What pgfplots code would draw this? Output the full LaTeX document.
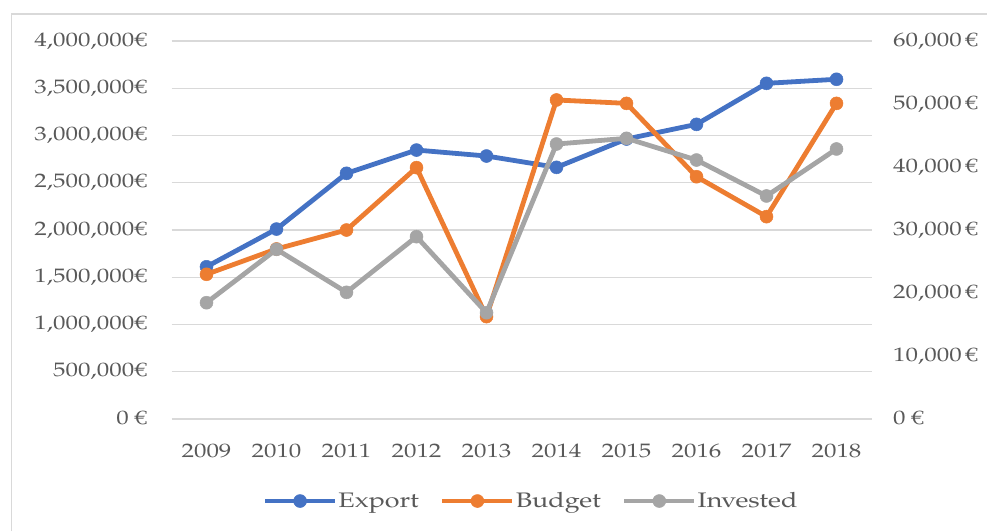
\documentclass[border=0pt]{standalone}
\usepackage{fontspec}
\setmainfont{TeX Gyre Pagella}[FakeStretch=1.28]
\usepackage{pgfplots}
\pgfplotsset{compat=1.18}
\definecolor{cExp}{HTML}{4472C4}
\definecolor{cBud}{HTML}{ED7D31}
\definecolor{cInv}{HTML}{A5A5A5}
\definecolor{cGrid}{HTML}{D9D9D9}
\definecolor{cTxt}{HTML}{595959}
\newcommand\lab{\fontsize{19.5}{23}\selectfont}
\newcommand\leg{\fontsize{21}{25}\selectfont}
\pgfplotsset{
  base/.style={
    at={(171.5pt,112pt)}, anchor=south west, scale only axis,
    width=700pt, height=378pt,
    xmin=-0.5, xmax=9.5, xtick={0,...,9},
    axis line style={draw=none}, major tick length=0pt,
    tick label style={font=\lab, text=cTxt},
    scaled y ticks=false, clip=false,
  },
  ser/.style={#1, line width=4.8pt, mark=*, mark size=6.5pt,
    mark options={solid, fill=#1, draw=#1, line width=0.5pt}},
}
\begin{document}
\begin{tikzpicture}[x=1pt,y=1pt]
\path[use as bounding box] (0,0) rectangle (987,531);
\draw[cGrid, line width=1.2pt] (11.5,0) -- (11.5,517) -- (987,517);
\begin{axis}[base,
  ymin=0, ymax=4000000,
  ytick={0,500000,1000000,1500000,2000000,2500000,3000000,3500000,4000000},
  yticklabels={{0\;€},{500,000€},{1,000,000€},{1,500,000€},{2,000,000€},{2,500,000€},{3,000,000€},{3,500,000€},{4,000,000€}},
  xticklabels={2009,2010,2011,2012,2013,2014,2015,2016,2017,2018},
  xticklabel style={anchor=base, inner sep=0pt, yshift=-38pt},
  yticklabel style={anchor=base east, inner sep=0pt, xshift=-24.5pt, yshift=-5pt},
  ymajorgrids, grid style={cGrid, line width=1.3pt},
]
\addplot[ser=cExp] coordinates {(0,1611000) (1,2010000) (2,2600000) (3,2846000) (4,2783000) (5,2663000) (6,2963000) (7,3118000) (8,3552000) (9,3595000)};
\end{axis}
\begin{axis}[base,
  ymin=0, ymax=60000,
  ytick={0,10000,20000,30000,40000,50000,60000},
  yticklabels={{0\;€},{10,000\,€},{20,000\,€},{30,000\,€},{40,000\,€},{50,000\,€},{60,000\,€}},
  yticklabel pos=right,
  xticklabels={},
  yticklabel style={anchor=base west, inner sep=0pt, xshift=21.5pt, yshift=-5pt},
  legend columns=-1,
  legend style={at={(0.513,-0.217)}, anchor=center, draw=none, fill=none,
    font=\leg, text=cTxt, nodes={inner sep=1pt},
    /tikz/every even column/.append style={column sep=20pt}},
  legend image code/.code={\draw[mark repeat=2,mark phase=2,#1] plot coordinates {(0pt,0pt) (35pt,0pt) (70pt,0pt)};},
]
\addlegendimage{ser=cExp}
\addlegendentry{Export}
\addplot[ser=cBud] coordinates {(0,22970) (1,26990) (2,30000) (3,39900) (4,16250) (5,50640) (6,50100) (7,38460) (8,32120) (9,50100)};
\addlegendentry{Budget}
\addplot[ser=cInv] coordinates {(0,18460) (1,26930) (2,20110) (3,28940) (4,16870) (5,43650) (6,44550) (7,41110) (8,35400) (9,42860)};
\addlegendentry{Invested}
\end{axis}
\end{tikzpicture}
\end{document}
